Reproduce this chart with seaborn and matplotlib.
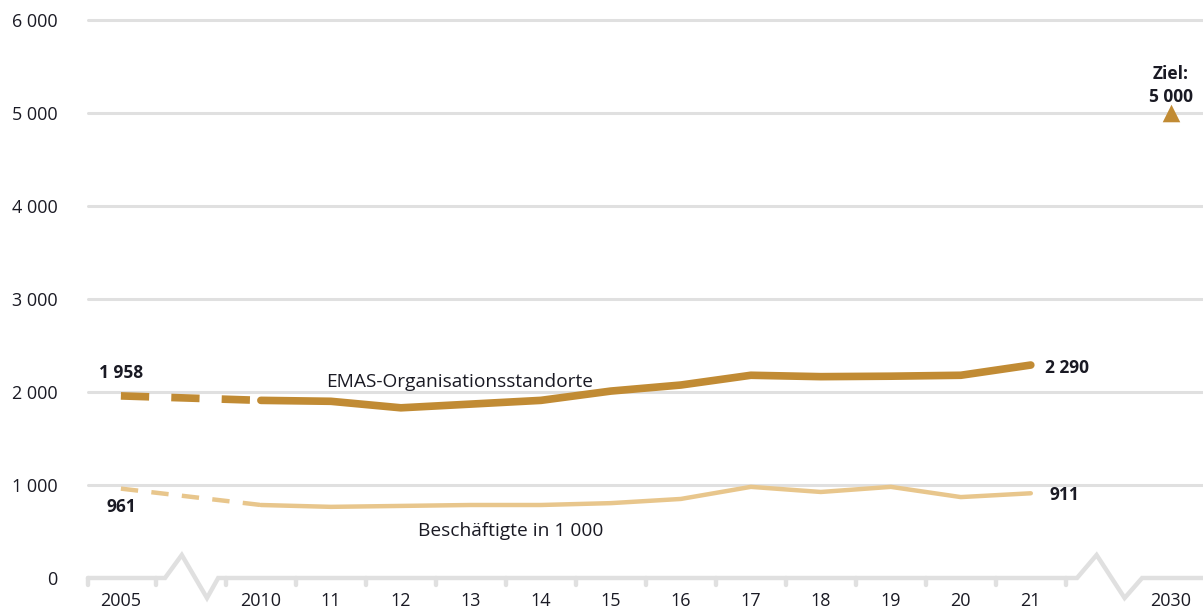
import matplotlib
matplotlib.use("Agg")
import matplotlib.pyplot as plt
import seaborn as sns
import pandas as pd

# Daten
years = [2005, 2010, 2011, 2012, 2013, 2014, 2015, 2016, 2017, 2018, 2019, 2020, 2021]
emas = [1958, 1910, 1900, 1830, 1870, 1910, 2010, 2075, 2180, 2165, 2170, 2180, 2290]
beschaeftigte = [961, 785, 765, 775, 785, 785, 805, 850, 980, 925, 980, 870, 911]
target_year = 2030
target_value = 5000
year_labels = ["2005", "2010", "11", "12", "13", "14", "15", "16", "17", "18", "19", "20", "21", "2030"]
y_ticks = [0, 1000, 2000, 3000, 4000, 5000, 6000]

COL_EMAS = "#C18B34"
COL_BESCH = "#E8C68C"
COL_GRID = "#E0E0E0"
COL_TEXT = "#1a1a24"


def axis_pos(year):
    # gebrochene Achse: 2005 | Bruch | 2010..2021 | Bruch | 2030
    if year == 2005:
        return 0
    if year == 2030:
        return 15
    return year - 2008


sns.set_theme(style="white")
plt.rcParams["font.family"] = ["Open Sans", "DejaVu Sans"]

df = pd.DataFrame({"year": years, "EMAS": emas, "Besch": beschaeftigte})
df["x"] = df["year"].apply(axis_pos)
solid = df[df["year"] >= 2010]
dashed = df[df["year"] <= 2010]

fig = plt.figure(figsize=(12.03, 6.13), dpi=100)
ax = fig.add_axes([88 / 1203, 35 / 613, 1115 / 1203, 558 / 613])
ax.set_xlim(-0.47, 15.46)
ax.set_ylim(0, 6000)

# Gitterlinien
for v in y_ticks[1:]:
    ax.axhline(v, color=COL_GRID, lw=2.2, zorder=0, clip_on=False)

# Linien
sns.lineplot(data=dashed, x="x", y="Besch", ax=ax, color=COL_BESCH, lw=3.2,
             linestyle=(0, (3.9, 3.0)), zorder=3)
sns.lineplot(data=solid, x="x", y="Besch", ax=ax, color=COL_BESCH, lw=3.2, zorder=3)
sns.lineplot(data=dashed, x="x", y="EMAS", ax=ax, color=COL_EMAS, lw=5.5,
             linestyle=(0, (3.7, 2.9)), zorder=4)
sns.lineplot(data=solid, x="x", y="EMAS", ax=ax, color=COL_EMAS, lw=5.5,
             solid_capstyle="round", zorder=4)
ax.scatter([axis_pos(target_year)], [target_value], marker="^", s=160,
           color=COL_EMAS, zorder=5, clip_on=False, linewidths=0)

# Achsenlinie mit Brüchen
px = 1000 / 93
ax_x = [-0.47, 0.63, 0.87, 1.23, 1.39, 13.66, 13.94, 14.34, 14.59, 15.46]
ax_y = [0, 0, 23 * px, -20 * px, 0, 0, 23 * px, -20 * px, 0, 0]
ax.plot(ax_x, ax_y, color=COL_GRID, lw=3.2, clip_on=False, zorder=2,
        solid_joinstyle="miter")
tick_x = [-0.47, 0.5] + [i + 0.5 for i in range(1, 14)]
for t in tick_x:
    ax.plot([t, t], [0, -7 * px], color=COL_GRID, lw=3.2, clip_on=False, zorder=2)

# Achsenbeschriftungen
ax.set_yticks(y_ticks)
ax.set_yticklabels([f"{v:,}".replace(",", " ") for v in y_ticks], fontsize=13,
                   color=COL_TEXT)
ax.tick_params(axis="y", length=0, pad=22)
xpos = [axis_pos(y) for y in years] + [axis_pos(target_year)]
ax.set_xticks(xpos)
ax.set_xticklabels(year_labels, fontsize=13, color=COL_TEXT)
ax.tick_params(axis="x", length=0, pad=10)
ax.set_xlabel("")
ax.set_ylabel("")
for s in ax.spines.values():
    s.set_visible(False)

# Werte und Serienbeschriftungen
ax.text(0, 2200, "1 958", ha="center", va="center", fontsize=12.5,
        fontweight="bold", color=COL_TEXT)
ax.text(0, 760, "961", ha="center", va="center", fontsize=12.5,
        fontweight="bold", color=COL_TEXT)
ax.text(13.2, 2260, "2 290", ha="left", va="center", fontsize=12.5,
        fontweight="bold", color=COL_TEXT)
ax.text(13.26, 895, "911", ha="left", va="center", fontsize=12.5,
        fontweight="bold", color=COL_TEXT)
ax.text(4.84, 2108, "EMAS-Organisationsstandorte", ha="center", va="center",
        fontsize=13.8, color=COL_TEXT)
ax.text(5.57, 505, "Beschäftigte in 1 000", ha="center", va="center",
        fontsize=13.8, color=COL_TEXT)
ax.text(15, 5300, "Ziel:\n5 000", ha="center", va="center", fontsize=12.5,
        fontweight="bold", color=COL_TEXT, linespacing=1.35)

fig.savefig("out.png", dpi=100)
